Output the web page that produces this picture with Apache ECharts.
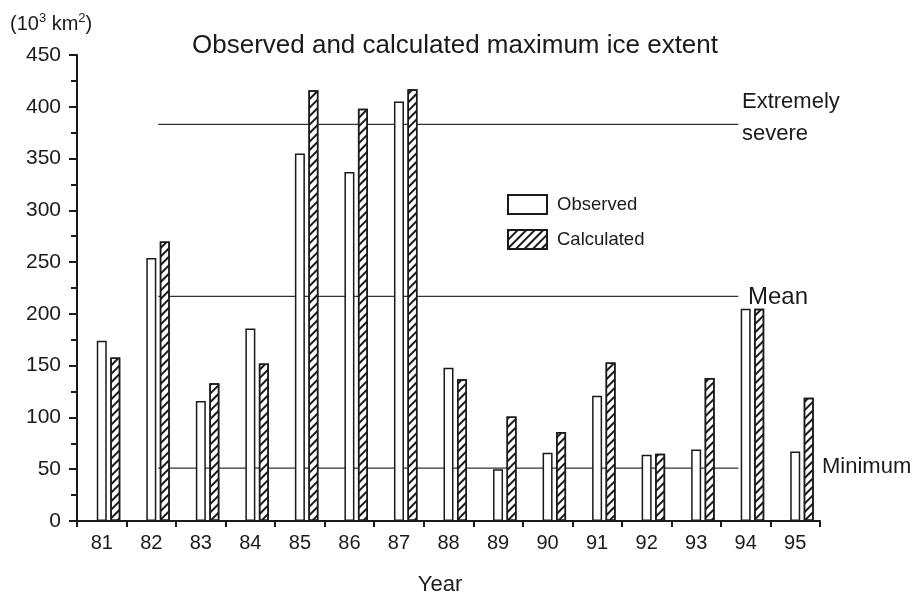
<!DOCTYPE html>
<html>
<head>
<meta charset="utf-8">
<script src="https://cdn.jsdelivr.net/npm/echarts@6/dist/echarts.min.js"></script>
<style>html,body{margin:0;padding:0;background:#fff}#c{width:916px;height:599px}</style>
</head>
<body>
<div id="c"></div>
<script>
const years = ['81','82','83','84','85','86','87','88','89','90','91','92','93','94','95'];
const observed = [174, 254, 116, 186, 355, 337, 405, 148, 50, 66, 121, 64, 69, 205, 67];
const calculated = [158, 270, 133, 152, 416, 398, 417, 137, 101, 86, 153, 65, 138, 205, 119];
const refNames = ['Extremely severe', 'Mean', 'Minimum'];
const refValues = [383, 217, 51];
const refSpan = [1.64, 13.35]; // in category units along the year axis
const yTicks = [0, 50, 100, 150, 200, 250, 300, 350, 400, 450];

const FONT = 'Liberation Sans, Arial, Helvetica, sans-serif';
const INK = '#1a1a1a';

const chart = echarts.init(document.getElementById('c'), null, {renderer: 'canvas'});

const refSeries = refValues.map((v, i) => ({
  name: refNames[i],
  type: 'line',
  xAxisIndex: 1,
  yAxisIndex: 0,
  data: [[refSpan[0], v], [refSpan[1], v]],
  symbol: 'none',
  silent: true,
  lineStyle: {color: '#333', width: 1.2},
  z: 1
}));

const hatch = {symbol: 'rect', symbolSize: 1, dashArrayX: [1, 0], dashArrayY: [1.3, 3.2], rotation: -Math.PI / 4, color: INK};

chart.setOption({
  animation: false,
  backgroundColor: '#fff',
  textStyle: {fontFamily: FONT, color: INK},
  grid: {left: 77, right: 96, top: 55, bottom: 78, containLabel: false},
  legend: {
    data: ['Observed', 'Calculated'],
    orient: 'vertical',
    left: 507,
    top: 194,
    padding: 0,
    itemWidth: 39,
    itemHeight: 19,
    itemGap: 14,
    icon: 'rect',
    textStyle: {fontFamily: FONT, fontSize: 18.5, color: INK, padding: [0, 0, 0, 5]}
  },
  xAxis: [{
    type: 'category',
    data: years,
    boundaryGap: true,
    axisLine: {lineStyle: {color: INK, width: 2}},
    axisTick: {show: true, interval: 0, length: 6, lineStyle: {color: INK, width: 2}},
    axisLabel: {interval: 0, fontFamily: FONT, fontSize: 20, color: INK, margin: 12},
    splitLine: {show: false}
  }, {
    type: 'value',
    min: 0,
    max: years.length,
    show: false
  }],
  yAxis: {
    type: 'value',
    min: 0,
    max: 450,
    interval: 50,
    axisLine: {show: true, lineStyle: {color: INK, width: 2}},
    axisTick: {show: true, length: 8, lineStyle: {color: INK, width: 2}},
    minorTick: {show: true, splitNumber: 2, length: 6, lineStyle: {color: INK, width: 2}},
    axisLabel: {fontFamily: FONT, fontSize: 21, color: INK, margin: 16,
      formatter: v => yTicks.includes(v) ? String(v) : ''},
    splitLine: {show: false}
  },
  series: [
    {name: 'spacer', type: 'bar', data: [], barWidth: 10, barGap: '35%', silent: true},
    {
      name: 'Observed', type: 'bar', data: observed, barWidth: 10, barGap: '35%',
      itemStyle: {color: '#fff', borderColor: INK, borderWidth: 1.5}, z: 3
    },
    {
      name: 'Calculated', type: 'bar', data: calculated, barWidth: 10, barGap: '35%',
      itemStyle: {color: '#fff', borderColor: INK, borderWidth: 1.5, decal: hatch}, z: 3
    }
  ].concat(refSeries),
  graphic: [
    {type: 'text', left: 10, top: 7, style: {
      text: '{a|(10}{s|3}{a| km}{s|2}{a|)}',
      rich: {
        a: {fontFamily: FONT, fontSize: 20, fill: INK, lineHeight: 27, verticalAlign: 'bottom'},
        s: {fontFamily: FONT, fontSize: 13, fill: INK, lineHeight: 27, verticalAlign: 'top', padding: [5, 0, 0, 0]}
      }
    }},
    {type: 'text', x: 455, y: 46, style: {text: 'Observed and calculated maximum ice extent', font: '26px ' + FONT, fill: INK, align: 'center', verticalAlign: 'middle'}},
    {type: 'text', x: 742, y: 118, style: {text: 'Extremely\nsevere', font: '22px ' + FONT, lineHeight: 32, fill: INK, align: 'left', verticalAlign: 'middle'}},
    {type: 'text', x: 748, y: 297, style: {text: 'Mean', font: '24px ' + FONT, fill: INK, align: 'left', verticalAlign: 'middle'}},
    {type: 'text', x: 822, y: 467, style: {text: 'Minimum', font: '22px ' + FONT, fill: INK, align: 'left', verticalAlign: 'middle'}},
    {type: 'text', x: 440, y: 585, style: {text: 'Year', font: '22px ' + FONT, fill: INK, align: 'center', verticalAlign: 'middle'}}
  ]
});
</script>
</body>
</html>
